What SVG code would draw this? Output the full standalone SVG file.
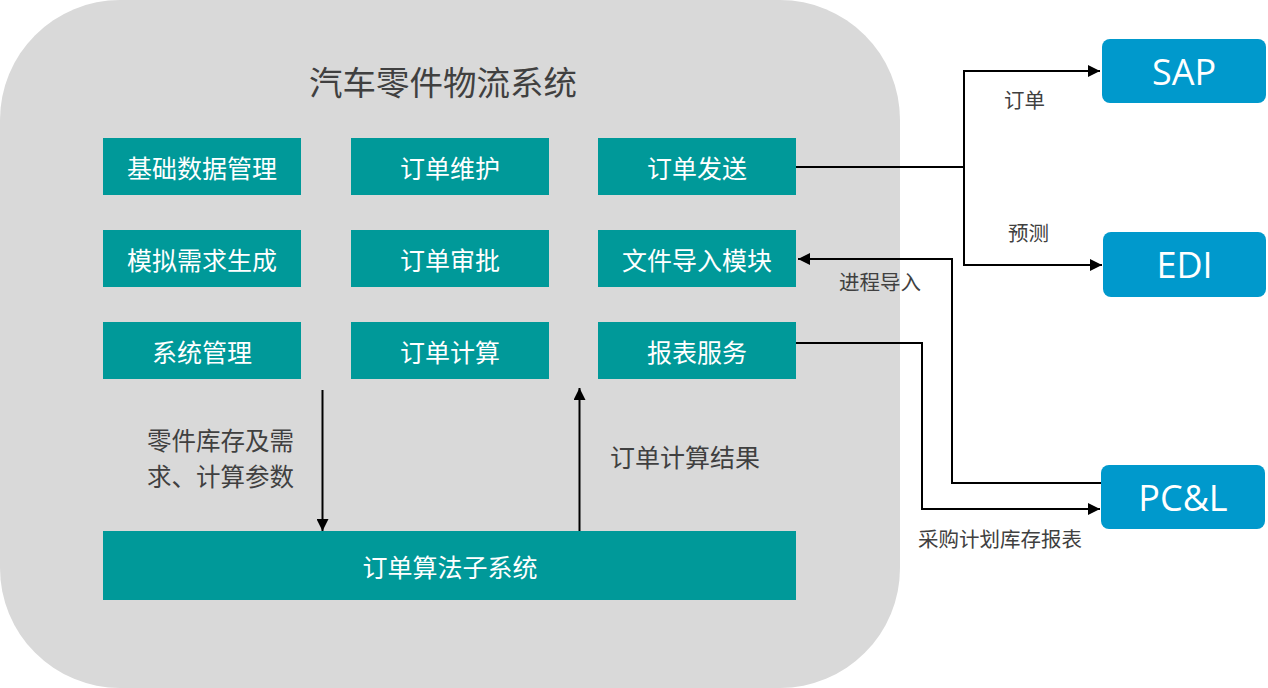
<svg xmlns="http://www.w3.org/2000/svg" width="1268" height="688" viewBox="0 0 1268 688">
<defs>
<style>
.mod{fill:#009999}
.ext{fill:#0099CC}
.mt{font-family:"Noto Sans CJK SC","Noto Sans",sans-serif;font-size:25px;fill:#ffffff;text-anchor:middle;dominant-baseline:central}
.et{font-family:"Open Sans","Noto Sans",sans-serif;font-size:36px;fill:#ffffff;text-anchor:middle;dominant-baseline:central}
.lbl{font-family:"Noto Sans CJK SC","Noto Sans",sans-serif;font-size:20.5px;fill:#404040}
.lbl2{font-family:"Noto Sans CJK SC","Noto Sans",sans-serif;font-size:25px;fill:#404040}
.lbl3{font-family:"Noto Sans CJK SC","Noto Sans",sans-serif;font-size:24.5px;fill:#404040}
.ln{fill:none;stroke:#000000;stroke-width:2}
</style>
<marker id="ah" viewBox="0 0 10 10" refX="10" refY="5" markerWidth="6" markerHeight="6" markerUnits="strokeWidth" orient="auto">
<path d="M0,0 L10,5 L0,10 z" fill="#000000"/>
</marker>
</defs>
<g id="system">
<rect x="0" y="0" width="900" height="688" rx="120" ry="120" fill="#D9D9D9"/>
<text x="443" y="80" font-family="'Noto Sans CJK SC','Noto Sans',sans-serif" font-size="33.5" fill="#404040" text-anchor="middle" dominant-baseline="central">汽车零件物流系统</text>
</g>
<g id="n-jichu"><rect class="mod" x="103" y="138" width="198" height="57"/><text class="mt" x="202" y="166.5">基础数据管理</text></g>
<g id="n-weihu"><rect class="mod" x="351" y="138" width="198" height="57"/><text class="mt" x="450" y="166.5">订单维护</text></g>
<g id="n-fasong"><rect class="mod" x="598" y="138" width="198" height="57"/><text class="mt" x="697" y="166.5">订单发送</text></g>
<g id="n-moni"><rect class="mod" x="103" y="230" width="198" height="57"/><text class="mt" x="202" y="258.5">模拟需求生成</text></g>
<g id="n-shenpi"><rect class="mod" x="351" y="230" width="198" height="57"/><text class="mt" x="450" y="258.5">订单审批</text></g>
<g id="n-daoru"><rect class="mod" x="598" y="230" width="198" height="57"/><text class="mt" x="697" y="258.5">文件导入模块</text></g>
<g id="n-xitong"><rect class="mod" x="103" y="322" width="198" height="57"/><text class="mt" x="202" y="350.5">系统管理</text></g>
<g id="n-jisuan"><rect class="mod" x="351" y="322" width="198" height="57"/><text class="mt" x="450" y="350.5">订单计算</text></g>
<g id="n-baobiao"><rect class="mod" x="598" y="322" width="198" height="57"/><text class="mt" x="697" y="350.5">报表服务</text></g>
<g id="n-suanfa"><rect class="mod" x="103" y="531" width="693" height="69"/><text class="mt" x="450" y="565.5">订单算法子系统</text></g>
<g id="n-sap"><rect class="ext" x="1102" y="39" width="164" height="64" rx="8"/><text class="et" x="1184" y="71">SAP</text></g>
<g id="n-edi"><rect class="ext" x="1103" y="232" width="163" height="65" rx="8"/><text class="et" x="1184.5" y="264.5">EDI</text></g>
<g id="n-pcl"><rect class="ext" x="1101" y="465" width="164" height="64" rx="8"/><text class="et" x="1183" y="497">PC&amp;L</text></g>
<g id="connectors">
<polyline class="ln" points="796,167 964,167"/>
<polyline class="ln" points="964,167 964,71 1100,71" marker-end="url(#ah)"/>
<polyline class="ln" points="964,167 964,265 1102,265" marker-end="url(#ah)"/>
<polyline class="ln" points="1101,483 952,483 952,259 798,259" marker-end="url(#ah)"/>
<polyline class="ln" points="796,343 922,343 922,509 1100,509" marker-end="url(#ah)"/>
<line class="ln" x1="322.5" y1="390" x2="322.5" y2="531" marker-end="url(#ah)"/>
<line class="ln" x1="579.5" y1="531" x2="579.5" y2="388" marker-end="url(#ah)"/>
<text class="lbl" x="1004" y="108">订单</text>
<text class="lbl" x="1008" y="241">预测</text>
<text class="lbl" x="839" y="290">进程导入</text>
<text class="lbl" x="918" y="547">采购计划库存报表</text>
<text class="lbl3" x="147" y="450">零件库存及需</text>
<text class="lbl3" x="147" y="486">求、计算参数</text>
<text class="lbl2" x="610" y="467">订单计算结果</text>
</g>
</svg>
